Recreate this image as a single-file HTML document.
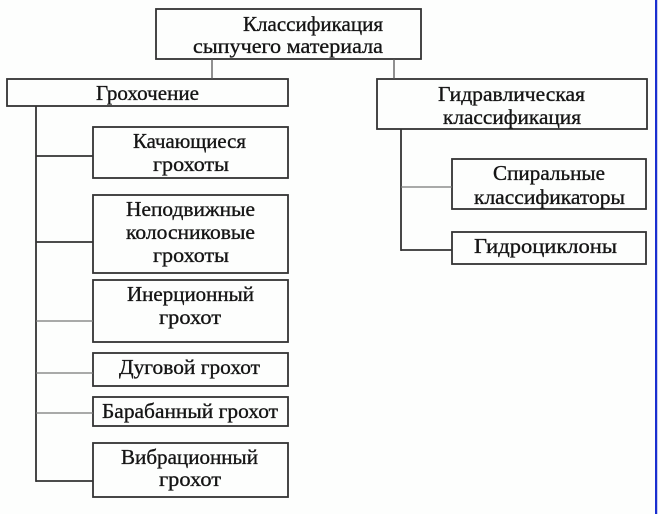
<!DOCTYPE html>
<html><head><meta charset="utf-8"><style>
html,body{margin:0;padding:0;background:#fdfefd;}
svg{display:block;}
text{font-family:"Liberation Serif","DejaVu Serif",serif;font-size:21px;fill:#151515;stroke:#151515;stroke-width:0.35px;}
</style></head><body>
<svg width="658" height="514" viewBox="0 0 658 514" xmlns="http://www.w3.org/2000/svg">
<rect x="0" y="0" width="658" height="514" fill="#fdfefd"/>
<g fill="none" stroke="#333" stroke-width="1.8">
<rect x="156" y="9" width="265" height="50"/>
<rect x="7" y="79" width="281" height="27"/>
<rect x="377" y="79" width="270" height="50"/>
<rect x="93" y="127" width="195" height="51"/>
<rect x="93" y="195" width="195" height="78"/>
<rect x="93" y="280" width="195" height="62"/>
<rect x="93" y="353" width="195" height="33"/>
<rect x="93" y="397" width="195" height="29"/>
<rect x="93" y="443" width="195" height="54"/>
<rect x="452" y="159" width="194" height="50"/>
<rect x="452" y="232" width="194" height="32"/>
</g>
<g fill="none" stroke="#555" stroke-width="1.3">
<line x1="212" y1="59" x2="212" y2="79"/>
<line x1="394" y1="59" x2="394" y2="79"/>
</g>
<g fill="none" stroke="#333" stroke-width="1.8">
<line x1="36" y1="106" x2="36" y2="481.9"/>
<line x1="36" y1="156" x2="93" y2="156"/>
<line x1="36" y1="242" x2="93" y2="242"/>
<line x1="36" y1="481" x2="93" y2="481"/>
<line x1="401" y1="129" x2="401" y2="250.9"/>
<line x1="401" y1="250" x2="452" y2="250"/>
</g>
<g fill="none" stroke="#777" stroke-width="1.2">
<line x1="36" y1="321" x2="93" y2="321"/>
<line x1="36" y1="373" x2="93" y2="373"/>
<line x1="36" y1="413" x2="93" y2="413"/>
<line x1="401" y1="187" x2="452" y2="187"/>
</g>
<rect x="655" y="0" width="2" height="514" fill="#1a2fd0"/>
<rect x="657" y="0" width="1" height="514" fill="#c8cdf0"/>

<text x="243" y="31" textLength="140" lengthAdjust="spacingAndGlyphs">Классификация</text>
<text x="193" y="53" textLength="190" lengthAdjust="spacingAndGlyphs">сыпучего материала</text>
<text x="96" y="100" textLength="103" lengthAdjust="spacingAndGlyphs">Грохочение</text>
<text x="133" y="148" textLength="113" lengthAdjust="spacingAndGlyphs">Качающиеся</text>
<text x="153" y="171" textLength="76" lengthAdjust="spacingAndGlyphs">грохоты</text>
<text x="126" y="216" textLength="129" lengthAdjust="spacingAndGlyphs">Неподвижные</text>
<text x="126" y="239" textLength="129" lengthAdjust="spacingAndGlyphs">колосниковые</text>
<text x="153" y="262" textLength="76" lengthAdjust="spacingAndGlyphs">грохоты</text>
<text x="127" y="301" textLength="127" lengthAdjust="spacingAndGlyphs">Инерционный</text>
<text x="159" y="324" textLength="62" lengthAdjust="spacingAndGlyphs">грохот</text>
<text x="119" y="374" textLength="141" lengthAdjust="spacingAndGlyphs">Дуговой грохот</text>
<text x="102" y="418" textLength="176" lengthAdjust="spacingAndGlyphs">Барабанный грохот</text>
<text x="121" y="464" textLength="137" lengthAdjust="spacingAndGlyphs">Вибрационный</text>
<text x="159" y="486" textLength="62" lengthAdjust="spacingAndGlyphs">грохот</text>
<text x="438" y="101" textLength="147" lengthAdjust="spacingAndGlyphs">Гидравлическая</text>
<text x="443" y="124" textLength="138" lengthAdjust="spacingAndGlyphs">классификация</text>
<text x="493" y="180" textLength="112" lengthAdjust="spacingAndGlyphs">Спиральные</text>
<text x="474" y="204" textLength="151" lengthAdjust="spacingAndGlyphs">классификаторы</text>
<text x="474" y="253" textLength="143" lengthAdjust="spacingAndGlyphs">Гидроциклоны</text>
</svg>
</body></html>
